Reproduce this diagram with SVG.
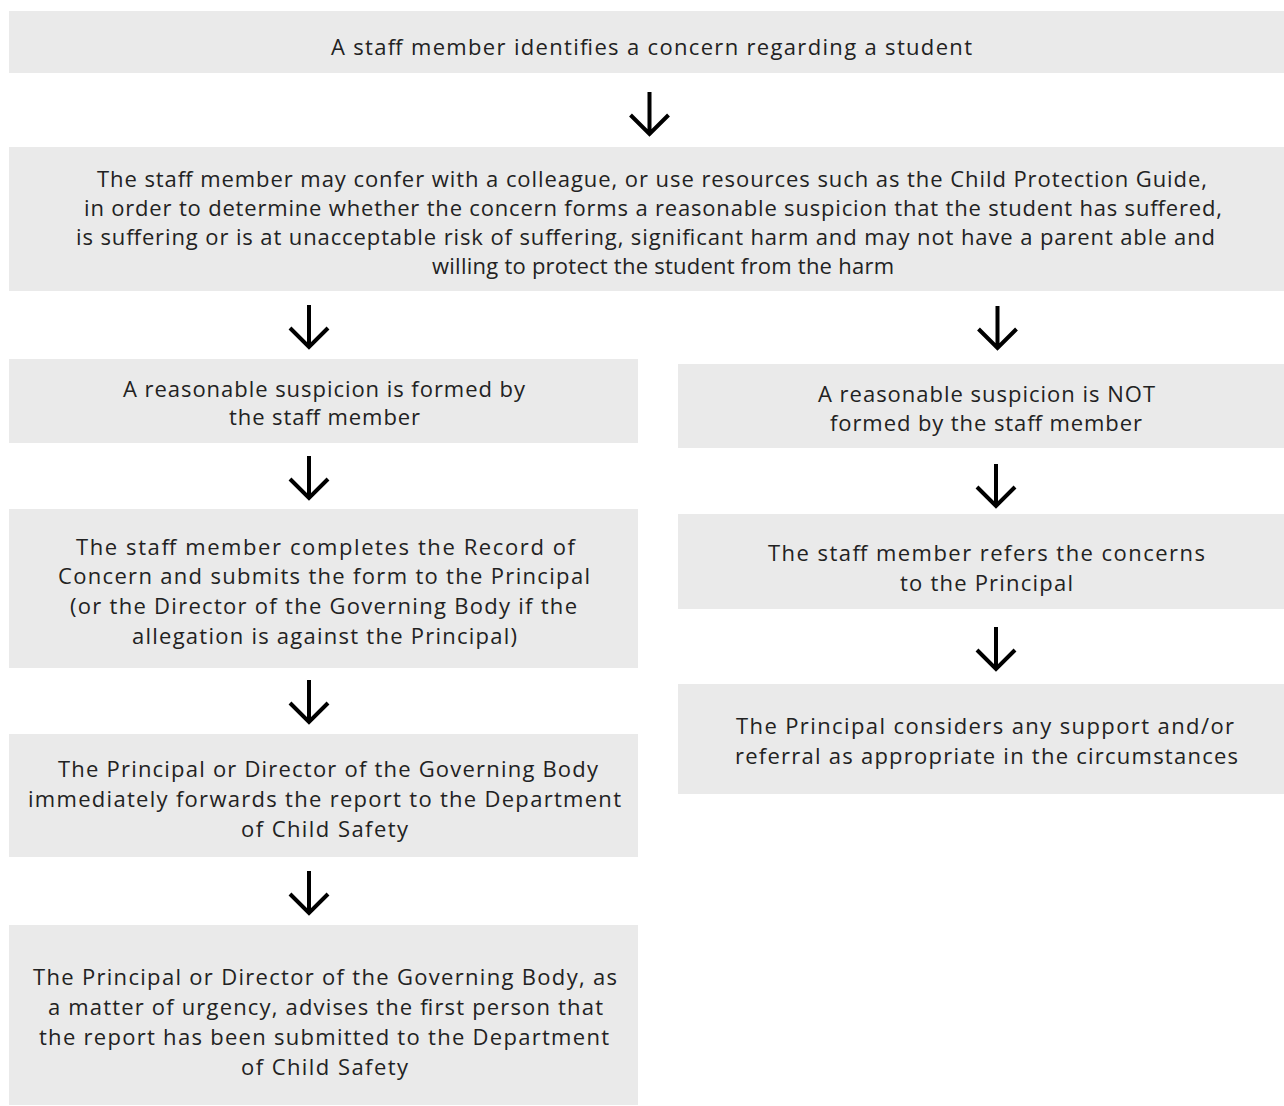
<svg xmlns="http://www.w3.org/2000/svg" width="1284" height="1106" viewBox="0 0 1284 1106">
<style>
.box{fill:#eaeaea}
text{font-family:"Open Sans","Lato",sans-serif;font-size:22px;fill:#222;text-anchor:middle}
.arr{fill:none;stroke:#000;stroke-width:4;stroke-linejoin:miter}
</style>
<rect width="1284" height="1106" fill="#fff"/>
<g id="n1"><rect class="box" x="9" y="11" width="1275" height="62"/>
<text x="651.5" y="55" textLength="641" lengthAdjust="spacing">A staff member identifies a concern regarding a student</text></g>
<g id="n2"><rect class="box" x="9" y="147" width="1275" height="144"/>
<text x="652" y="187" textLength="1110" lengthAdjust="spacing">The staff member may confer with a colleague, or use resources such as the Child Protection Guide,</text>
<text x="653" y="216" textLength="1138" lengthAdjust="spacing">in order to determine whether the concern forms a reasonable suspicion that the student has suffered,</text>
<text x="645.5" y="245" textLength="1139" lengthAdjust="spacing">is suffering or is at unacceptable risk of suffering, significant harm and may not have a parent able and</text>
<text x="663" y="274" textLength="462" lengthAdjust="spacing">willing to protect the student from the harm</text></g>
<g id="n3"><rect class="box" x="9" y="359" width="629" height="84"/>
<text x="324" y="397" textLength="402" lengthAdjust="spacing">A reasonable suspicion is formed by</text>
<text x="324.5" y="425" textLength="191" lengthAdjust="spacing">the staff member</text></g>
<g id="n4"><rect class="box" x="678" y="364" width="606" height="84"/>
<text x="986.5" y="402" textLength="337" lengthAdjust="spacing">A reasonable suspicion is NOT</text>
<text x="986" y="431" textLength="312" lengthAdjust="spacing">formed by the staff member</text></g>
<g id="n5"><rect class="box" x="9" y="509" width="629" height="159"/>
<text x="325.5" y="555" textLength="499" lengthAdjust="spacing">The staff member completes the Record of</text>
<text x="324" y="584" textLength="532" lengthAdjust="spacing">Concern and submits the form to the Principal</text>
<text x="323.5" y="614" textLength="507" lengthAdjust="spacing">(or the Director of the Governing Body if the</text>
<text x="324.5" y="644" textLength="385" lengthAdjust="spacing">allegation is against the Principal)</text></g>
<g id="n6"><rect class="box" x="678" y="514" width="606" height="95"/>
<text x="986.5" y="561" textLength="437" lengthAdjust="spacing">The staff member refers the concerns</text>
<text x="986.5" y="591" textLength="173" lengthAdjust="spacing">to the Principal</text></g>
<g id="n7"><rect class="box" x="9" y="734" width="629" height="123"/>
<text x="328" y="777" textLength="540" lengthAdjust="spacing">The Principal or Director of the Governing Body</text>
<text x="324.5" y="807" textLength="593" lengthAdjust="spacing">immediately forwards the report to the Department</text>
<text x="324.5" y="837" textLength="167" lengthAdjust="spacing">of Child Safety</text></g>
<g id="n8"><rect class="box" x="678" y="684" width="606" height="110"/>
<text x="985" y="734" textLength="498" lengthAdjust="spacing">The Principal considers any support and/or</text>
<text x="986.5" y="764" textLength="503" lengthAdjust="spacing">referral as appropriate in the circumstances</text></g>
<g id="n9"><rect class="box" x="9" y="925" width="629" height="180"/>
<text x="325" y="985" textLength="584" lengthAdjust="spacing">The Principal or Director of the Governing Body, as</text>
<text x="325.5" y="1015" textLength="555" lengthAdjust="spacing">a matter of urgency, advises the first person that</text>
<text x="324" y="1045" textLength="570" lengthAdjust="spacing">the report has been submitted to the Department</text>
<text x="324.5" y="1075" textLength="167" lengthAdjust="spacing">of Child Safety</text></g>
<g id="connectors" class="arr">
<path d="M649.5 92V134M630.5 115L649.5 134L668.5 115"/>
<path d="M309 305V347M290 328L309 347L328 328"/>
<path d="M997.5 306V348M978.5 329L997.5 348L1016.5 329"/>
<path d="M309 456V498M290 479L309 498L328 479"/>
<path d="M996 464V506M977 487L996 506L1015 487"/>
<path d="M309 680V722M290 703L309 722L328 703"/>
<path d="M996 627V669M977 650L996 669L1015 650"/>
<path d="M309 871V913M290 894L309 913L328 894"/>
</g>
</svg>
